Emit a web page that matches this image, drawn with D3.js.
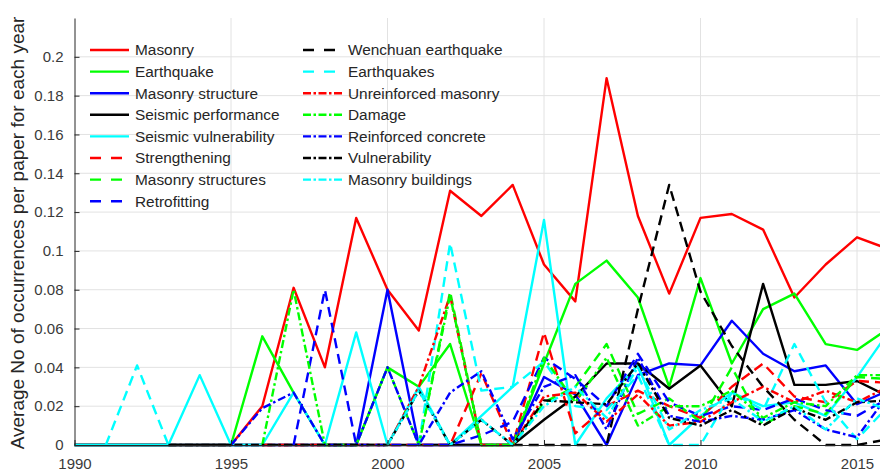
<!DOCTYPE html>
<html>
<head>
<meta charset="utf-8">
<script src="https://cdn.jsdelivr.net/npm/d3@7"></script>
<style>
  html, body { margin: 0; padding: 0; background: #fff; }
  svg { display: block; font-family: "Liberation Sans", Arial, Helvetica, sans-serif; }
</style>
</head>
<body>
<svg id="chart" width="880" height="473"></svg>
<script>
// Keyword frequency per year: average number of occurrences per paper
const years = [1990,1991,1992,1993,1994,1995,1996,1997,1998,1999,2000,2001,2002,2003,
               2004,2005,2006,2007,2008,2009,2010,2011,2012,2013,2014,2015,2016];

const xTicks = [1990, 1995, 2000, 2005, 2010, 2015];
const yTicks = [0, 0.02, 0.04, 0.06, 0.08, 0.1, 0.12, 0.14, 0.16, 0.18, 0.2];

const masonry = [0,0,0,0,0,0,0.020,0.081,0.040,0.117,0.080,0.059,0.131,0.118,
                 0.134,0.093,0.074,0.189,0.118,0.078,0.117,0.119,0.111,0.076,0.093,0.107,0.101];
const earthquake = [0,0,0,0,0,0,0.056,0.027,0,0,0.040,0.030,0.052,0,
                    0,0.042,0.083,0.095,0.076,0.030,0.086,0.042,0.070,0.078,0.052,0.049,0.060];
const masonryStructure = [0,0,0,0,0,0,0,0,0,0,0.080,0,0,0,
                          0,0.035,0.026,0,0.036,0.042,0.041,0.064,0.047,0.038,0.041,0.021,0.028];
const seismicPerformance = [0,0,0,0,0,0,0,0,0,0,0,0,0,0,
                            0,0.013,0.025,0.042,0.042,0.029,0.041,0.020,0.083,0.031,0.031,0.033,0.025];
const seismicVulnerability = [0,0,0,0,0.036,0,0,0.027,0,0.058,0,0.030,0,0.015,
                              0.030,0.116,0,0.024,0.041,0,0.015,0.027,0.020,0.022,0.015,0.035,0.058];
const strengthening = [null,null,null,null,null,null,0,0,0,0,0,0,0,0.037,
                       0,0.058,0.006,0.020,0.028,0.020,0.014,0.030,0.042,0.025,0.022,0.033,0.032];
const masonryStructures = [null,null,null,null,null,null,null,null,null,null,null,0,0.079,0,
                           0,0.022,0.030,0.052,0.016,0.024,0.012,0.040,0.010,0.020,0.016,0.035,0.034];
const retrofitting = [null,null,null,null,null,null,null,0,0.080,0,0,0,0,0.005,
                      0.012,0.045,0.034,0.020,0.047,0.022,0.015,0.020,0.018,0.024,0.018,0.015,0.024];
const wenchuan = [null,null,null,null,null,null,null,null,null,null,null,null,null,null,
                  0,0,0,0,0.070,0.134,0.079,0.051,0.030,0.013,0,0,0.003];
const earthquakes = [null,0,0.041,0,null,null,null,null,null,null,null,0,0.104,0.028,
                     0.030,0.043,0.020,0.018,0.036,0,0,0.027,0.018,0.052,0.022,0.003,0.020];
const unreinforced = [null,null,null,null,null,null,null,null,null,null,0,0.030,0.077,0,
                      0,0.025,0.027,0.012,0.026,0.010,0.012,0.022,0.030,0.022,0.028,0.022,0.030];
const damage = [null,null,null,null,null,null,0,0.080,0,0,0.040,0,0.077,0,
                0,0.045,0.022,0.045,0.010,0.020,0.020,0.028,0.014,0.022,0.020,0.036,0.036];
const reinforcedConcrete = [null,null,null,null,null,0,0.019,0.027,0,0,0.040,0,0.027,0.038,
                            0.003,0.030,0.036,0.008,0.045,0.015,0.012,0.015,0.013,0.018,0.008,0.004,0.026];
const vulnerability = [null,null,null,0,0,0,0,0,0,0,0,0.028,0,0.013,
                       0,0.023,0.022,0.021,0.042,0.014,0.010,0.018,0.010,0.019,0.013,0.022,0.023];
const masonryBuildings = [null,null,null,null,null,null,null,null,null,null,0,0.028,0,0.013,
                          0,0.020,0.030,0.014,0.040,0.008,0.018,0.024,0.012,0.020,0.008,0.024,0.018];

const RED = "#ff0000", GREEN = "#00ff00", BLUE = "#0000ff", BLACK = "#000000", CYAN = "#00ffff";

// legend order = drawing order (later series sit on top)
const series = [
  { name: "Masonry",                values: masonry,              color: RED,   style: "solid" },
  { name: "Earthquake",             values: earthquake,           color: GREEN, style: "solid" },
  { name: "Masonry structure",      values: masonryStructure,     color: BLUE,  style: "solid" },
  { name: "Seismic performance",    values: seismicPerformance,   color: BLACK, style: "solid" },
  { name: "Seismic vulnerability",  values: seismicVulnerability, color: CYAN,  style: "solid" },
  { name: "Strengthening",          values: strengthening,        color: RED,   style: "dash" },
  { name: "Masonry structures",     values: masonryStructures,    color: GREEN, style: "dash" },
  { name: "Retrofitting",           values: retrofitting,         color: BLUE,  style: "dash" },
  { name: "Wenchuan earthquake",    values: wenchuan,             color: BLACK, style: "dash" },
  { name: "Earthquakes",            values: earthquakes,          color: CYAN,  style: "dash" },
  { name: "Unreinforced masonry",   values: unreinforced,         color: RED,   style: "dashdot" },
  { name: "Damage",                 values: damage,               color: GREEN, style: "dashdot" },
  { name: "Reinforced concrete",    values: reinforcedConcrete,   color: BLUE,  style: "dashdot" },
  { name: "Vulnerability",          values: vulnerability,        color: BLACK, style: "dashdot" },
  { name: "Masonry buildings",      values: masonryBuildings,     color: CYAN,  style: "dashdot" }
];

const plotDash = { solid: null, dash: "10,6", dashdot: "8,3,2.5,3" };
const legendDash = { solid: null, dash: "11,10", dashdot: "8,2.5,2.5,2.5" };

const svg = d3.select("#chart");
const plotLeft = 74.5, plotBottom = 445, plotTop = 18;

const x = d3.scaleLinear().domain([1990, 2016]).range([plotLeft, plotLeft + 26 * 31.3]);
const y = d3.scaleLinear().domain([0, 0.22]).range([plotBottom, plotTop]);

const AXIS = "#262626";
const GRID = "#e2e2e2";

// grid
const grid = svg.append("g");
grid.selectAll("line.h").data(yTicks.filter(d => d > 0)).join("line")
  .attr("x1", plotLeft).attr("x2", 880)
  .attr("y1", d => y(d)).attr("y2", d => y(d))
  .attr("stroke", GRID).attr("stroke-width", 1);
grid.selectAll("line.v").data(xTicks.filter(d => d > 1990)).join("line")
  .attr("x1", d => x(d)).attr("x2", d => x(d))
  .attr("y1", plotTop).attr("y2", plotBottom)
  .attr("stroke", GRID).attr("stroke-width", 1);

// series lines
const line = d3.line()
  .defined(d => d.v !== null)
  .x(d => x(d.year))
  .y(d => y(d.v));

svg.append("g").selectAll("path").data(series).join("path")
  .attr("d", s => line(years.map((yr, i) => ({ year: yr, v: s.values[i] }))))
  .attr("fill", "none")
  .attr("stroke", s => s.color)
  .attr("stroke-width", 2.4)
  .attr("stroke-linejoin", "round")
  .attr("stroke-dasharray", s => plotDash[s.style]);

// axes
const yAxis = d3.axisLeft(y).tickValues(yTicks)
  .tickFormat(d => d === 0 ? "0" : String(+d.toFixed(2)))
  .tickSizeInner(-5).tickSizeOuter(0).tickPadding(11);
const xAxis = d3.axisBottom(x).tickValues(xTicks).tickFormat(d3.format("d"))
  .tickSizeInner(-5).tickSizeOuter(0).tickPadding(13);

const gy = svg.append("g").attr("transform", `translate(${plotLeft},0)`).call(yAxis);
const gx = svg.append("g").attr("transform", `translate(0,${plotBottom})`).call(xAxis);
[gx, gy].forEach(g => {
  g.select(".domain").attr("stroke", AXIS).attr("stroke-width", 1);
  g.selectAll(".tick line").attr("stroke", AXIS);
  g.selectAll(".tick text").attr("fill", "#3a3a3a")
    .style("font-size", "15px").style("font-family", "'Liberation Sans', Arial, sans-serif");
});

// y axis title
svg.append("text")
  .attr("transform", `translate(24,233) rotate(-90)`)
  .attr("text-anchor", "middle")
  .attr("fill", AXIS)
  .style("font-size", "19px")
  .text("Average No of occurrences per paper for each year");

// legend: two columns
const legend = svg.append("g");
const colX = [90, 303];
const rowY0 = 50, rowStep = 21.6;
series.forEach((s, i) => {
  const col = i < 8 ? 0 : 1;
  const row = i < 8 ? i : i - 8;
  const ly = rowY0 + row * rowStep;
  const lx = colX[col];
  legend.append("line")
    .attr("x1", lx).attr("x2", lx + 39)
    .attr("y1", ly).attr("y2", ly)
    .attr("stroke", s.color).attr("stroke-width", 2.4)
    .attr("stroke-dasharray", legendDash[s.style]);
  legend.append("text")
    .attr("x", lx + 45).attr("y", ly + 5.3)
    .attr("fill", AXIS)
    .style("font-size", "15.4px")
    .text(s.name);
});
</script>
</body>
</html>
